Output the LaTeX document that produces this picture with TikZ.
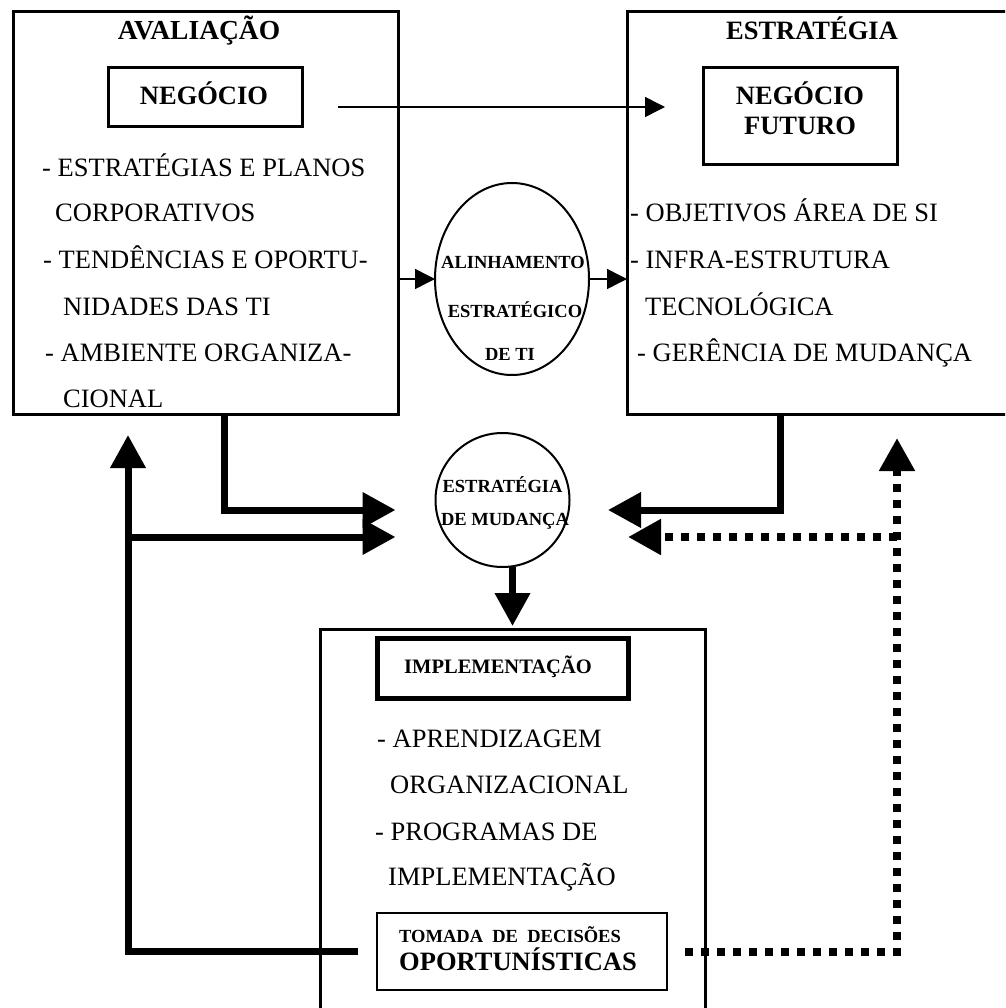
\documentclass[tikz,border=0pt]{standalone}
\usepackage{fontspec}
\setmainfont{Liberation Serif}
\usetikzlibrary{arrows.meta,shapes.geometric,calc}
\begin{document}
\begin{tikzpicture}[x=1pt,y=-1pt,
  frame/.style={draw,rectangle,line width=3pt,inner sep=0pt,outer sep=0pt},
  roundframe/.style={draw,line width=2pt,inner sep=0pt,outer sep=0pt},
  body/.style={font=\fontsize{26.5}{30}\selectfont,inner sep=0pt,anchor=base west},
  ttl/.style={font=\fontsize{26.5}{30}\selectfont\bfseries,inner sep=0pt,anchor=base},
  smallttl/.style={font=\fontsize{18.5}{20}\selectfont\bfseries,inner sep=0pt,anchor=base},
  thinarrow/.style={line width=1.5pt,-{Triangle[length=20pt,width=20pt]}},
  heavyarrow/.style={line width=7pt,-{Triangle[length=33pt,width=34pt]}},
  dotarrow/.style={line width=8pt,dash pattern=on 8pt off 8pt,-{Triangle[length=33pt,width=34pt]}}
]
\useasboundingbox (0,0) rectangle (1005,1008);
\begin{scope}
\clip (0,0) rectangle (1005,1008);
% frames
\node[frame,minimum width=385pt,minimum height=402pt] (aval) at (205.5,213) {};
\node[frame,minimum width=403pt,minimum height=402pt] (estr) at (828.5,213) {};
\node[frame,minimum width=385pt,minimum height=401pt] (impl) at (512.5,829.5) {};
\node[frame,minimum width=194pt,minimum height=59pt] (neg) at (205,97.5) {};
\node[frame,minimum width=194pt,minimum height=97pt] (fut) at (800,116.5) {};
\node[frame,line width=5pt,minimum width=251pt,minimum height=60pt] (implt) at (502.5,668) {};
\node[frame,line width=2pt,minimum width=290pt,minimum height=77pt] (tom) at (522,951.5) {};
\node[roundframe,ellipse,minimum width=154pt,minimum height=192pt] (alin) at (512,279) {};
\node[roundframe,circle,minimum size=134pt] (mud) at (502.5,500) {};

% titles
\node[ttl,font=\fontsize{27.5}{30}\selectfont\bfseries] (tAval) at (199,40) {AVALIAÇÃO};
\node[ttl] (tEstr) at (812,40) {ESTRATÉGIA};
\node[ttl] (tNeg) at (204,105) {NEGÓCIO};
\node[ttl] (tFut1) at (800,105) {NEGÓCIO};
\node[ttl] (tFut2) at (800,135) {FUTURO};

% left list
\node[body] (l1) at (42,177) {- ESTRATÉGIAS E PLANOS};
\node[body] (l2) at (55,222) {CORPORATIVOS};
\node[body] (l3) at (43,268) {- TENDÊNCIAS E OPORTU-};
\node[body] (l4) at (63,315) {NIDADES DAS TI};
\node[body] (l5) at (45,361) {- AMBIENTE ORGANIZA-};
\node[body] (l6) at (63,407) {CIONAL};

% right list
\node[body] (r1) at (630,222) {- OBJETIVOS ÁREA DE SI};
\node[body] (r2) at (630,268) {- INFRA-ESTRUTURA};
\node[body] (r3) at (645,315) {TECNOLÓGICA};
\node[body] (r4) at (637,361) {- GERÊNCIA DE MUDANÇA};

% bottom list
\node[body] (b1) at (377,747) {- APRENDIZAGEM};
\node[body] (b2) at (390,793) {ORGANIZACIONAL};
\node[body] (b3) at (375,840) {- PROGRAMAS DE};
\node[body] (b4) at (388,885) {IMPLEMENTAÇÃO};

\node[font=\fontsize{20.5}{22}\selectfont\bfseries,inner sep=0pt,anchor=base] (tImpl) at (498,673) {IMPLEMENTAÇÃO};
\node[smallttl,anchor=base west] (tTom1) at (399,942) {TOMADA\ \ DE\ \ DECISÕES};
\node[font=\fontsize{26.5}{28}\selectfont\bfseries,inner sep=0pt,anchor=base west] (tTom2) at (399,970) {OPORTUNÍSTICAS};

% ellipse and circle texts
\node[smallttl] (e1) at (513,268) {ALINHAMENTO};
\node[smallttl] (e2) at (515,317) {ESTRATÉGICO};
\node[smallttl] (e3) at (510,360) {DE TI};
\node[smallttl] (c1) at (502.5,492) {ESTRATÉGIA};
\node[smallttl] (c2) at (505,525) {DE MUDANÇA};

% thin connectors
\draw[thinarrow] ($(neg.east)+(36,9.5)$) -- ($(fut.west)+(-38,-9.5)$);
\draw[thinarrow] (aval.east |- alin.west) -- (alin.west);
\draw[thinarrow] (alin.east) -- (estr.west |- alin.east);

% heavy connectors
\coordinate (inL1) at ($(mud.west)+(-40,10)$);
\coordinate (inL2) at ($(mud.west)+(-40,37)$);
\coordinate (inR1) at ($(mud.east)+(38.5,10)$);
\coordinate (inR2) at ($(mud.east)+(58.5,37)$);
\coordinate (upL) at (128,435);
\coordinate (upR) at (897,438);
\coordinate (brL) at (upL |- inL2);
\coordinate (brR) at (upR |- inR2);
\coordinate (mdown) at ($(mud.south)+(10,0)$);

\draw[heavyarrow] ([xshift=18.5pt]aval.south) |- (inL1);
\draw[heavyarrow] ([xshift=-48.5pt]estr.south) |- (inR1);
\draw[heavyarrow] (mdown) -- ($(mdown |- impl.north)+(0,-3)$);
\draw[heavyarrow] ($(tom.west)+(-19,0)$) -| (upL);
\draw[heavyarrow] (brL) -- (inL2);

% dotted connectors
\draw[dotarrow] ($(tom.east)+(18,0)$) -| (upR);
\draw[dotarrow] (brR) -- (inR2);
\end{scope}
\end{tikzpicture}
\end{document}
